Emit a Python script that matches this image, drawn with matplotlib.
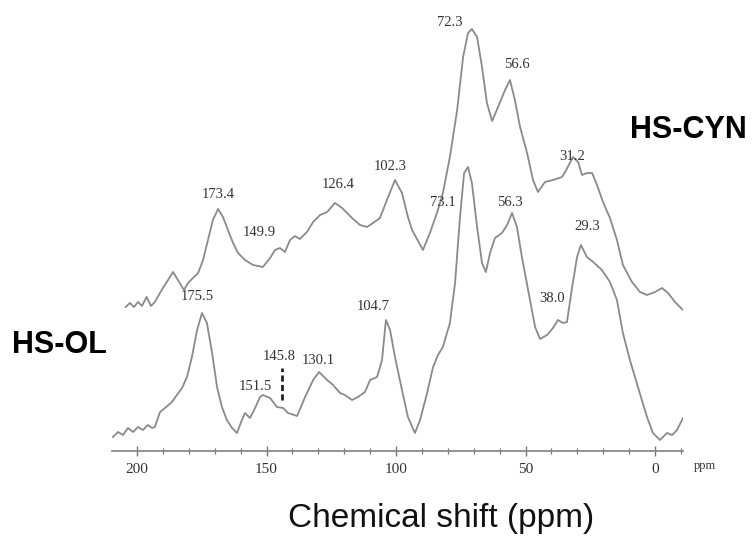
import matplotlib
matplotlib.use("Agg")
import matplotlib.pyplot as plt
from matplotlib.ticker import MultipleLocator

# ---- data (chemical shift in ppm, intensity in arbitrary units) ----
cyn_ppm = [204.4, 202.7, 201.2, 199.6, 198.1, 196.3, 194.6, 193.1, 190.5, 188.0,
           186.1, 184.2, 181.9, 180.3, 178.4, 176.4, 174.5, 172.6, 170.7, 168.7,
           166.8, 164.9, 162.9, 161.0, 158.3, 155.2, 151.4, 148.6, 146.7, 144.8,
           142.9, 140.9, 139.0, 137.1, 134.4, 132.0, 129.3, 126.6, 123.6, 120.8,
           117.0, 113.9, 111.2, 108.9, 106.2, 103.5, 100.4, 97.7, 95.4, 93.8,
           89.6, 86.9, 84.2, 81.9, 79.2, 76.4, 74.1, 72.2, 70.7, 68.7,
           66.8, 64.9, 62.9, 60.6, 57.9, 56.0, 54.1, 52.1, 49.4, 47.1,
           45.2, 42.5, 39.4, 35.9, 34.7, 31.7, 29.7, 28.2, 26.3, 24.3,
           22.4, 20.1, 17.4, 14.7, 12.4, 8.9, 5.8, 3.1, 0.0, -2.7,
           -5.0, -7.7, -10.8]
cyn_int = [3, 7, 3, 8, 4, 13, 4, 8, 20, 30,
           38, 30, 20, 27, 32, 37, 50, 70, 90, 101,
           93, 80, 67, 57, 50, 45, 43, 52, 60, 62,
           58, 70, 74, 71, 78, 88, 95, 98, 107, 102,
           92, 85, 83, 87, 92, 110, 130, 117, 93, 80,
           60, 77, 97, 117, 153, 200, 253, 277, 281, 273,
           243, 207, 189, 203, 220, 230, 210, 183, 157, 130,
           118, 128, 130, 133, 138, 153, 148, 135, 137, 137,
           125, 108, 92, 70, 45, 28, 18, 15, 18, 22,
           17, 8, 0]

ol_ppm = [209.3, 207.3, 205.4, 203.5, 201.5, 199.6, 197.7, 195.8, 194.2, 193.1,
          191.1, 189.2, 186.5, 184.6, 182.6, 180.7, 178.8, 176.8, 174.9, 173.0,
          171.0, 169.1, 167.2, 165.3, 163.3, 161.4, 159.5, 158.3, 156.4, 154.4,
          152.5, 151.4, 148.6, 146.0, 143.6, 141.7, 138.2, 135.1, 132.0, 129.7,
          126.6, 124.3, 121.6, 119.7, 117.0, 114.7, 112.0, 110.0, 107.3, 105.4,
          103.9, 102.3, 100.4, 97.7, 95.4, 92.7, 90.7, 88.0, 85.7, 83.8,
          81.9, 79.2, 77.2, 75.3, 73.7, 72.2, 70.7, 68.7, 66.8, 65.3,
          63.7, 61.8, 59.1, 57.1, 55.2, 53.3, 51.4, 49.0, 46.3, 44.4,
          41.7, 39.4, 37.5, 35.5, 34.0, 32.0, 30.1, 28.6, 26.3, 23.9,
          20.5, 17.4, 14.7, 12.4, 9.7, 6.6, 3.1, 0.8, -1.9, -4.6,
          -6.6, -8.5, -10.8]
ol_int = [3, 8, 5, 12, 8, 13, 10, 15, 12, 13,
          28, 32, 38, 45, 52, 63, 83, 110, 127, 117,
          87, 53, 33, 20, 12, 7, 20, 27, 22, 32,
          43, 45, 42, 33, 32, 27, 24, 43, 60, 68,
          60, 55, 47, 45, 40, 43, 48, 60, 63, 80,
          120, 110, 83, 50, 23, 7, 20, 47, 73, 85,
          93, 117, 157, 223, 267, 273, 257, 213, 177, 168,
          187, 202, 207, 215, 227, 213, 183, 150, 113, 101,
          105, 112, 120, 117, 118, 153, 183, 195, 183, 178,
          170, 158, 140, 107, 80, 53, 23, 7, 0, 7,
          5, 10, 22]

cyn_labels = ["173.4", "149.9", "126.4", "102.3", "72.3", "56.6", "31.2"]
cyn_label_ppm = [168.7, 152.9, 122.4, 102.3, 79.2, 53.3, 32.0]
ol_labels = ["175.5", "151.5", "145.8", "130.1", "104.7", "73.1", "56.3", "38.0", "29.3"]
ol_label_ppm = [176.8, 154.4, 145.2, 130.1, 108.9, 81.9, 56.0, 39.8, 26.3]

# ---- layout ----
W, H = 754, 542
fig = plt.figure(figsize=(W / 100, H / 100), dpi=100)
ax = fig.add_axes([112 / W, 1 - 451 / H, 571 / W, 451 / H])

cyn_offset = 141
ol_offset = 11
cyn_label_y = [256, 218, 266, 285, 428, 386, 295]
ol_label_y = [154, 64, 94, 91, 144, 248, 248, 152, 224]

line_col = "#8a8a8a"
ax.plot(cyn_ppm, [v + cyn_offset for v in cyn_int], color=line_col, lw=1.3)
ax.plot(ol_ppm, [v + ol_offset for v in ol_int], color=line_col, lw=1.3)

serif = ["Liberation Serif", "DejaVu Serif"]
for t, xp, yp in zip(cyn_labels, cyn_label_ppm, cyn_label_y):
    ax.text(xp, yp, t, ha="center", va="center", fontsize=10.5,
            family=serif, color="#333333")
for t, xp, yp in zip(ol_labels, ol_label_ppm, ol_label_y):
    ax.text(xp, yp, t, ha="center", va="center", fontsize=10.5,
            family=serif, color="#333333")

# dashed marker at 145.8
ax.plot([144.0, 144.0], [51, 83], color="#222222", lw=2, ls=(0, (2.2, 1.2)))

ax.set_xlim(209.65, -10.8)
ax.set_ylim(0, 451)
for s in ["top", "left", "right"]:
    ax.spines[s].set_visible(False)
ax.spines["bottom"].set_color("#8a8a8a")
ax.spines["bottom"].set_linewidth(1.3)
ax.set_yticks([])
ax.xaxis.set_major_locator(MultipleLocator(50))
ax.xaxis.set_minor_locator(MultipleLocator(10))
ax.tick_params(axis="x", which="major", direction="inout", length=7, width=1,
               color="#777777", labelsize=11, pad=5, labelcolor="#333333")
ax.tick_params(axis="x", which="minor", direction="inout", length=4, width=0.9,
               color="#777777")
for lab in ax.get_xticklabels():
    lab.set_family(serif)

fig.text(705 / W, 1 - 466 / H, "ppm", ha="center", va="center", fontsize=9,
         family=serif, color="#333333")
fig.text(441 / W, 1 - 518 / H, "Chemical shift (ppm)", ha="center", va="center",
         fontsize=24, family=["Liberation Sans", "DejaVu Sans"], color="#111111")
fig.text(688 / W, 1 - 130 / H, "HS-CYN", ha="center", va="center", fontsize=22,
         fontweight="bold", family=["Liberation Sans", "DejaVu Sans"], color="#000000")
fig.text(59 / W, 1 - 345 / H, "HS-OL", ha="center", va="center", fontsize=22,
         fontweight="bold", family=["Liberation Sans", "DejaVu Sans"], color="#000000")

fig.savefig("out.png", dpi=100)
